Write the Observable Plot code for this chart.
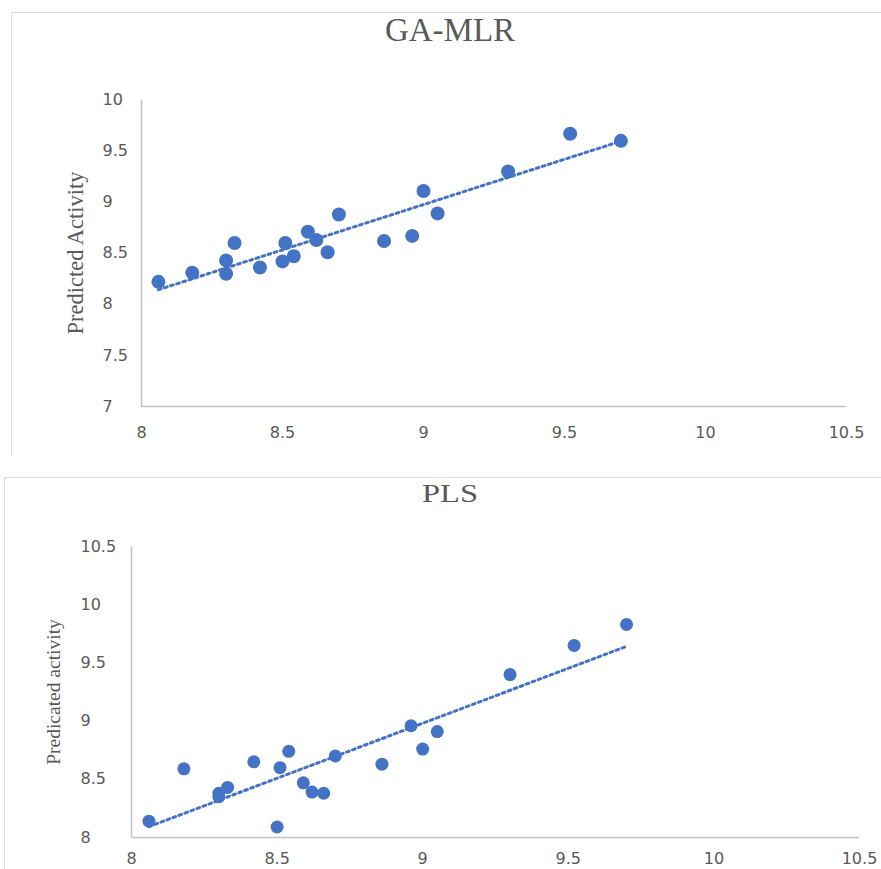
<!DOCTYPE html>
<html>
<head>
<meta charset="utf-8">
<script src="https://cdn.jsdelivr.net/npm/d3@7"></script>
<script src="https://cdn.jsdelivr.net/npm/@observablehq/plot@0.6"></script>
<style>
  html, body { margin: 0; padding: 0; background: #fff; }
  #page { position: relative; width: 881px; height: 869px; overflow: hidden; background: #fff; }
  .panel { position: absolute; border-top: 1px solid #dcdcdc; border-left: 1px solid #dcdcdc; box-sizing: border-box; }
  .title { position: absolute; font-family: "Liberation Serif", "Times New Roman", serif; color: #595959; white-space: nowrap; transform: translateX(-50%); line-height: 1; }
  .ylab { position: absolute; font-family: "Liberation Serif", "Times New Roman", serif; color: #595959; white-space: nowrap; transform: translate(-50%, -50%) rotate(-90deg); line-height: 1; }
  .plot { position: absolute; left: 0; }
</style>
</head>
<body>
<div id="page">
  <div class="panel" style="left:11px; top:12px; width:870px; height:443px;"></div>
  <div class="panel" style="left:4px; top:477px; width:877px; height:392px;"></div>
  <div class="title" style="left:450px; top:14px; font-size:33px;">GA-MLR</div>
  <div class="title" style="left:450px; top:481px; font-size:26px; transform: translateX(-50%) scaleX(1.25);">PLS</div>
  <div class="ylab" style="left:76px; top:253px; font-size:22.5px;">Predicted Activity</div>
  <div class="ylab" style="left:54px; top:692px; font-size:19.5px;">Predicated activity</div>
  <div id="top" class="plot" style="top:0px;"></div>
  <div id="bottom" class="plot" style="top:450px;"></div>
</div>
<script>
// Observed activity (x) shared by both charts
const observed = [8.06, 8.18, 8.30, 8.30, 8.33, 8.42, 8.50, 8.51, 8.54, 8.59, 8.62, 8.66, 8.70, 8.86, 8.96, 9.00, 9.05, 9.30, 9.52, 9.70];
// GA-MLR predicted activity
const predictedGAMLR = [8.22, 8.31, 8.43, 8.30, 8.60, 8.36, 8.42, 8.60, 8.47, 8.71, 8.63, 8.51, 8.88, 8.62, 8.67, 9.11, 8.89, 9.30, 9.67, 9.60];
// PLS observed / predicted activity
const observedPLS = [8.06, 8.18, 8.30, 8.30, 8.33, 8.42, 8.50, 8.51, 8.54, 8.59, 8.62, 8.66, 8.70, 8.86, 8.96, 9.00, 9.05, 9.30, 9.52, 9.70];
const predictedPLS = [8.14, 8.59, 8.35, 8.38, 8.43, 8.65, 8.09, 8.60, 8.74, 8.47, 8.39, 8.38, 8.70, 8.63, 8.96, 8.76, 8.91, 9.40, 9.65, 9.83];

const xTicks = [8, 8.5, 9, 9.5, 10, 10.5];
const yTicksTop = [7, 7.5, 8, 8.5, 9, 9.5, 10];
const yTicksBottom = [8, 8.5, 9, 9.5, 10, 10.5];

const blue = "#4472C4";
const axisGrey = "#c3c3c3";
const labelGrey = "#595959";

const dataTop = observed.map((x, i) => ({x, y: predictedGAMLR[i]}));
const dataBottom = observedPLS.map((x, i) => ({x, y: predictedPLS[i]}));

const fmt = d => String(d);

const topPlot = Plot.plot({
  width: 881,
  height: 450,
  marginLeft: 141,
  marginRight: 35,
  marginTop: 99.5,
  marginBottom: 44,
  x: {domain: [8, 10.5]},
  y: {domain: [7, 10]},
  style: {fontFamily: "DejaVu Sans, sans-serif", fontSize: "16px", color: labelGrey, background: "transparent", overflow: "visible"},
  marks: [
    Plot.axisX({ticks: xTicks, tickSize: 0, tickPadding: 20, label: null, tickFormat: fmt, fill: labelGrey}),
    Plot.axisY({ticks: yTicksTop, tickSize: 0, tickPadding: 39, textAnchor: "start", label: null, tickFormat: fmt, fill: labelGrey}),
    Plot.ruleY([7], {stroke: axisGrey, strokeWidth: 1.5}),
    Plot.ruleX([8], {stroke: axisGrey, strokeWidth: 1.5}),
    Plot.linearRegressionY(dataTop, {x: "x", y: "y", stroke: blue, strokeWidth: 3, strokeDasharray: "2.8,3.6", ci: 0}),
    Plot.dot(dataTop, {x: "x", y: "y", r: 7, fill: blue, stroke: "none"})
  ]
});
document.getElementById("top").appendChild(topPlot);

const bottomPlot = Plot.plot({
  width: 881,
  height: 419,
  marginLeft: 131,
  marginRight: 22,
  marginTop: 96,
  marginBottom: 32,
  x: {domain: [8, 10.5]},
  y: {domain: [8, 10.5]},
  style: {fontFamily: "DejaVu Sans, sans-serif", fontSize: "16px", color: labelGrey, background: "transparent", overflow: "visible"},
  marks: [
    Plot.axisX({ticks: xTicks, tickSize: 0, tickPadding: 15, label: null, tickFormat: fmt, fill: labelGrey}),
    Plot.axisY({ticks: yTicksBottom, tickSize: 0, tickPadding: 51, textAnchor: "start", label: null, tickFormat: fmt, fill: labelGrey}),
    Plot.ruleY([8], {stroke: axisGrey, strokeWidth: 1.5}),
    Plot.ruleX([8], {stroke: axisGrey, strokeWidth: 1.5}),
    Plot.linearRegressionY(dataBottom, {x: "x", y: "y", stroke: blue, strokeWidth: 3, strokeDasharray: "2.8,3.6", ci: 0}),
    Plot.dot(dataBottom, {x: "x", y: "y", r: 6.5, fill: blue, stroke: "none"})
  ]
});
document.getElementById("bottom").appendChild(bottomPlot);
</script>
</body>
</html>
